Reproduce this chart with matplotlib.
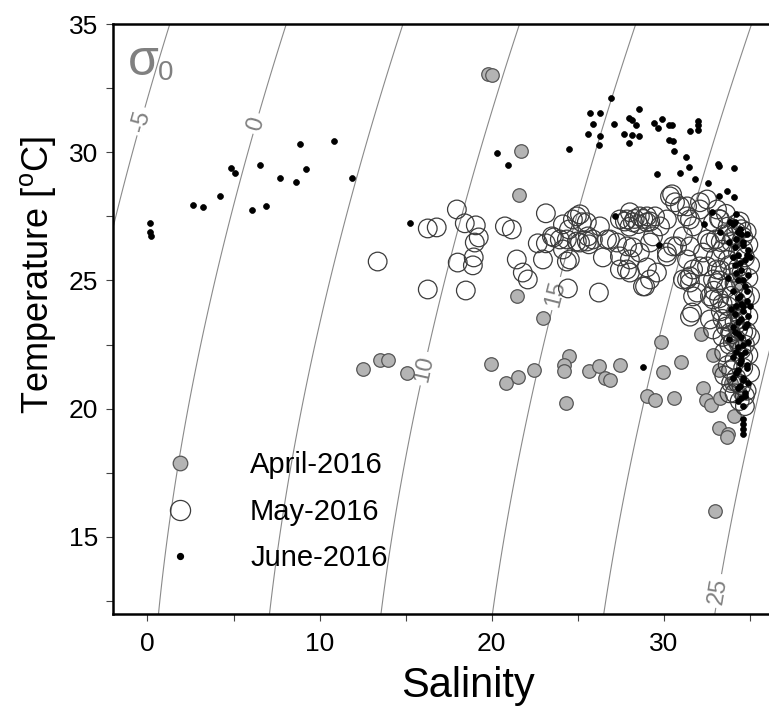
import numpy as np
import matplotlib
matplotlib.use('Agg')
import matplotlib.pyplot as plt
from matplotlib import font_manager
from matplotlib.lines import Line2D

# ---- data (salinity, temperature) ----
apr_sal = [19.77, 20.00, 21.69, 21.57, 21.45, 22.97, 12.50, 13.49, 13.95, 15.06,
           19.94, 20.81, 21.51, 22.44, 24.48, 24.19, 24.19, 24.30, 25.64, 26.22,
           26.57, 26.86, 27.44, 29.83, 29.94, 30.99, 29.01, 29.48, 30.58, 32.15,
           32.97, 32.27, 32.44, 32.73, 32.85, 33.20, 33.26, 34.07, 33.20, 33.72,
           33.66, 34.20, 34.00, 34.30, 33.90, 34.40]
apr_temp = [33.05, 33.01, 30.04, 28.32, 24.38, 23.55, 21.56, 21.88, 21.88, 21.41,
            21.76, 21.02, 21.25, 21.52, 22.07, 21.72, 21.48, 20.23, 21.48, 21.68,
            21.21, 21.13, 21.72, 22.62, 21.45, 21.84, 20.51, 20.35, 20.43, 22.93,
            16.02, 20.82, 20.35, 20.16, 22.11, 21.52, 20.43, 19.73, 19.26, 19.02,
            18.91, 22.50, 23.80, 24.90, 21.00, 20.60]

may_sal = [13.37, 16.28, 16.28, 16.80, 17.97, 18.43, 19.07, 19.24, 19.01, 18.02,
           18.90, 18.95, 18.49, 20.76, 21.16, 21.45, 21.80, 22.09, 23.14, 23.14,
           22.97, 23.60, 22.67, 23.49, 23.95, 24.13, 24.13, 24.36, 24.42, 26.22,
           24.48, 24.94, 25.23, 25.12, 24.53, 25.64, 25.58, 26.28, 26.69, 27.27,
           27.44, 27.73, 28.02, 28.20, 28.60, 29.01, 29.48, 29.77, 30.17, 29.36,
           28.60, 28.20, 27.44, 27.44, 28.02, 29.01, 29.59, 28.90, 30.17, 30.47,
           30.93, 31.34, 31.69, 31.10, 30.76, 31.51, 31.34, 31.51, 31.69, 31.92,
           31.63, 32.09, 32.50, 33.08, 32.85, 33.26, 32.50, 32.27, 32.50, 32.85,
           32.67, 25.12, 24.71, 25.52, 24.36, 24.94, 25.52, 25.87, 26.45, 27.85,
           29.01, 26.86, 27.85, 29.19, 27.85, 28.02, 29.19, 28.78, 30.17, 30.52,
           30.35, 30.64, 31.10, 31.51, 31.51, 31.69, 31.34, 32.09, 31.51, 32.67,
           31.34, 32.09, 33.08, 32.85, 32.67, 32.85, 33.84, 28.30, 28.50, 28.80,
           29.20, 28.00,
           33.2, 33.7, 34.2, 34.6, 34.9, 33.9, 33.4, 33.0, 34.3, 34.7,
           35.0, 33.8, 33.3, 34.5, 34.9, 34.1, 33.6, 33.1, 34.6, 35.0,
           34.2, 33.7, 33.3, 34.5, 34.9, 34.1, 33.6, 34.6, 35.0, 34.2,
           33.8, 33.5, 34.5, 34.9, 34.1, 33.7, 34.6, 35.0, 34.2, 33.9,
           34.5, 34.8, 34.1, 34.4, 34.7, 33.9, 33.4, 33.2, 34.8, 34.4,
           33.5, 34.0, 34.3, 34.7,
           33.6, 34.5, 34.0, 33.3, 34.6, 33.7, 34.3, 33.2, 34.7, 33.9,
           33.4, 34.4, 33.7, 34.8, 34.0, 33.4, 34.6, 33.9, 34.3, 34.7,
           33.8, 34.2, 33.0, 32.9, 33.5]
may_temp = [25.74, 24.65, 27.03, 27.07, 27.77, 27.23, 27.15, 26.68, 26.48, 25.70,
            25.59, 25.90, 24.61, 27.11, 26.99, 25.82, 25.31, 25.04, 27.62, 26.45,
            25.82, 26.68, 26.45, 26.72, 26.60, 27.19, 26.21, 25.74, 24.69, 24.53,
            26.99, 27.50, 27.27, 26.48, 25.82, 26.41, 26.72, 27.11, 26.60, 26.48,
            27.38, 27.30, 27.66, 27.27, 27.50, 27.27, 27.50, 27.11, 27.38, 26.72,
            26.09, 26.29, 25.94, 25.43, 25.31, 25.51, 25.31, 24.77, 26.09, 28.36,
            27.89, 27.50, 27.11, 26.72, 26.33, 26.33, 25.04, 24.92, 25.43, 24.53,
            23.75, 28.05, 28.16, 27.77, 27.27, 27.38, 26.60, 26.09, 25.55, 25.04,
            24.38, 27.58, 27.38, 27.27, 26.60, 26.52, 26.52, 26.60, 25.90, 27.38,
            27.50, 26.60, 26.33, 26.48, 25.43, 25.82, 25.04, 24.77, 25.94, 26.33,
            28.28, 28.05, 25.04, 25.16, 23.59, 24.38, 27.89, 27.77, 27.38, 26.48,
            25.82, 25.55, 25.43, 24.26, 23.48, 23.09, 22.97, 27.40, 27.20, 27.40,
            27.30, 27.10,
            27.4, 27.1, 26.9, 26.7, 26.4, 26.5, 26.2, 25.9, 26.1, 25.9,
            25.6, 25.6, 25.4, 25.3, 25.1, 24.9, 24.7, 24.9, 24.6, 24.4,
            24.2, 24.0, 23.8, 23.8, 23.6, 23.4, 23.2, 23.0, 22.8, 22.7,
            22.5, 22.2, 22.3, 22.1, 21.9, 21.7, 21.6, 21.4, 21.2, 21.0,
            20.9, 20.7, 20.6, 20.3, 20.1, 22.9, 23.5, 24.3, 26.9, 27.3,
            26.8, 25.3, 23.1, 22.5,
            27.6, 27.0, 26.7, 26.5, 26.2, 25.8, 25.5, 25.0, 24.3, 24.4,
            24.1, 23.5, 23.4, 23.0, 22.6, 22.8, 22.0, 21.5, 21.0, 20.5,
            20.6, 27.2, 26.6, 24.6, 21.3]

jun_sal = [0.17, 0.12, 0.23, 2.62, 3.20, 4.24, 4.83, 5.06, 6.05, 6.86,
           6.51, 7.67, 8.60, 9.19, 8.84, 10.81, 11.86, 15.23, 20.29, 20.93,
           24.48, 26.92, 25.70, 26.28, 25.87, 25.58, 26.28, 26.22, 27.09, 28.55,
           27.97, 28.14, 28.37, 27.67, 28.14, 28.55, 27.97, 29.42, 29.88, 29.65,
           30.29, 30.47, 30.29, 30.52, 30.58, 31.98, 31.98, 31.98, 31.51, 31.28,
           31.45, 31.80, 29.59, 30.93, 32.56, 33.14, 33.20, 34.07, 33.66, 34.07,
           33.20, 34.19, 34.13, 32.33, 32.79, 27.15, 29.71, 28.78, 33.84, 33.26,
           34.0, 34.4, 34.8, 34.2, 34.6, 34.9, 34.3, 34.7, 34.1, 34.5,
           34.9, 34.3, 34.7, 34.0, 34.4, 34.8, 34.2, 34.6, 34.9, 34.3,
           34.7, 34.1, 34.5, 34.9, 34.3, 34.7, 34.0, 34.4, 34.8, 34.2,
           34.6, 34.9, 34.3, 34.7, 34.5, 34.6, 34.6, 34.6, 34.6, 34.6,
           33.8, 33.7, 33.9, 33.8, 35.0, 35.0, 34.5, 34.5, 34.5,
           34.3, 34.6, 34.1, 34.8, 34.4, 34.2, 34.6, 34.8, 34.3, 34.6,
           34.1, 34.5, 34.8, 34.3, 34.6, 34.2, 34.5, 34.8, 34.3, 34.6,
           34.4, 34.7, 34.3, 34.0, 34.0, 34.0]
jun_temp = [27.23, 26.88, 26.72, 27.93, 27.85, 28.28, 29.38, 29.18, 27.73, 27.89,
            29.49, 28.98, 28.83, 29.34, 30.31, 30.43, 28.98, 27.23, 29.96, 29.49,
            30.12, 32.11, 31.52, 31.52, 31.09, 30.70, 30.63, 30.27, 31.09, 31.68,
            31.33, 31.25, 31.05, 30.70, 30.66, 30.63, 30.35, 31.13, 31.29, 30.94,
            31.05, 31.05, 30.47, 30.43, 30.04, 31.21, 31.05, 30.86, 30.82, 29.80,
            29.41, 28.95, 29.14, 29.18, 28.79, 29.53, 29.45, 29.38, 28.48, 28.24,
            28.28, 27.58, 27.30, 27.19, 27.66, 27.50, 26.37, 21.64, 27.27, 26.88,
            27.2, 27.0, 26.8, 26.6, 26.4, 26.2, 26.0, 25.8, 25.6, 25.4,
            25.2, 25.0, 24.8, 24.6, 24.4, 24.2, 24.0, 23.8, 23.6, 23.4,
            23.2, 23.0, 22.8, 22.6, 22.4, 22.2, 22.0, 21.8, 21.6, 21.4,
            21.2, 21.0, 20.8, 20.6, 20.4, 20.1, 19.6, 19.4, 19.2, 19.0,
            26.5, 25.1, 23.9, 22.7, 25.9, 24.0, 26.8, 24.1, 22.1,
            26.9, 26.5, 26.3, 26.0, 25.7, 25.3, 25.0, 24.6, 24.3, 24.0,
            23.7, 23.5, 23.3, 22.9, 22.5, 22.2, 21.9, 21.7, 21.5, 21.1,
            20.9, 20.5, 20.3, 25.9, 23.2, 21.2]

labelled_levels = [-5, 0, 10, 15, 25]
plain_levels = [5, 20]
label_spots = [(-0.9, 31.3), (6.4, 31.1), (15.8, 21.6), (23.7, 24.5), (33.1, 12.9)]


def sigma0(S, T):
    # UNESCO EOS-80 density at p = 0, minus 1000
    rw = (999.842594 + 6.793952e-2 * T - 9.095290e-3 * T**2 + 1.001685e-4 * T**3
          - 1.120083e-6 * T**4 + 6.536332e-9 * T**5)
    a = 0.824493 - 4.0899e-3 * T + 7.6438e-5 * T**2 - 8.2467e-7 * T**3 + 5.3875e-9 * T**4
    b = -5.72466e-3 + 1.0227e-4 * T - 1.6546e-6 * T**2
    c = 4.8314e-4
    return rw + a * S + b * S * np.sqrt(np.abs(S)) + c * S**2 - 1000.0


names = {f.name for f in font_manager.fontManager.ttflist}
if 'Liberation Sans Narrow' in names:
    narrow, tick_fs, xlab_fs, ylab_fs = 'Liberation Sans Narrow', 22, 36, 32
else:
    narrow, tick_fs, xlab_fs, ylab_fs = 'Liberation Sans', 19, 30, 26

plt.rcParams['font.family'] = ['Liberation Sans', 'DejaVu Sans']
plt.rcParams['mathtext.fontset'] = 'custom'
plt.rcParams['mathtext.rm'] = narrow
plt.rcParams['mathtext.it'] = narrow

fig = plt.figure(figsize=(7.69, 7.08), dpi=100)
ax = fig.add_axes([0.147, 0.133, 0.853, 0.833])
ax.set_xlim(-2.0, 36.1)
ax.set_ylim(12, 35)

# sigma-0 isopycnals
ss, tt = np.meshgrid(np.linspace(-3, 37, 300), np.linspace(11, 36, 300))
sig = sigma0(ss, tt)
ax.contour(ss, tt, sig, levels=plain_levels, colors='#8a8a8a', linewidths=0.8,
           linestyles='solid', zorder=1)
cs = ax.contour(ss, tt, sig, levels=labelled_levels, colors='#8a8a8a',
                linewidths=0.8, linestyles='solid', zorder=1)
ax.clabel(cs, manual=label_spots, inline=True, inline_spacing=4,
          fontsize=17, colors='#808080', fmt='%d')

ax.scatter(apr_sal, apr_temp, s=95, facecolor='#b4b4b4', edgecolor='#555555',
           linewidths=0.9, zorder=3)
ax.scatter(may_sal, may_temp, s=180, facecolor='none', edgecolor='#3c3c3c',
           linewidths=0.9, zorder=4)
ax.scatter(jun_sal, jun_temp, s=18, facecolor='black', edgecolor='black',
           linewidths=0.5, zorder=5)

ax.set_xticks([0, 10, 20, 30])
ax.set_xticks([5, 15, 25, 35], minor=True)
ax.set_yticks([15, 20, 25, 30, 35])
ax.set_yticks([12.5, 17.5, 22.5, 27.5, 32.5], minor=True)
ax.tick_params(which='both', direction='out', length=5, width=0.8, color='#444444')
ax.tick_params(axis='x', pad=8)
ax.tick_params(axis='y', pad=6)
for lab in ax.get_xticklabels() + ax.get_yticklabels():
    lab.set_fontfamily(narrow)
    lab.set_fontsize(tick_fs)

for side in ['left', 'bottom', 'top']:
    ax.spines[side].set_linewidth(1.8)
ax.spines['right'].set_visible(False)

ax.set_xlabel('Salinity', fontfamily=narrow, fontsize=xlab_fs)
ax.set_ylabel(r'Temperature [$^{\mathrm{o}}$C]', fontfamily=narrow, fontsize=ylab_fs)
ax.xaxis.set_label_coords(0.541, -0.088)
ax.yaxis.set_label_coords(-0.084, 0.574)

ax.text(0.022, 0.913, '\u03c3', transform=ax.transAxes, fontsize=36,
        color='#808080', va='baseline', ha='left')
ax.text(0.068, 0.905, '0', transform=ax.transAxes, fontsize=20,
        color='#808080', va='baseline', ha='left')

handles = [
    Line2D([], [], ls='none', marker='o', ms=10.5, mfc='#b4b4b4', mec='#555555', mew=0.9),
    Line2D([], [], ls='none', marker='o', ms=14.5, mfc='none', mec='#3c3c3c', mew=0.9),
    Line2D([], [], ls='none', marker='o', ms=4.2, mfc='black', mec='black'),
]
ax.legend(handles, ['April-2016', 'May-2016', 'June-2016'], loc='upper left',
          bbox_to_anchor=(0.08, 0.276), frameon=False, fontsize=21,
          handlelength=1.0, handletextpad=1.9, labelspacing=0.64,
          borderpad=0, borderaxespad=0)

fig.savefig('out.png', dpi=100)
